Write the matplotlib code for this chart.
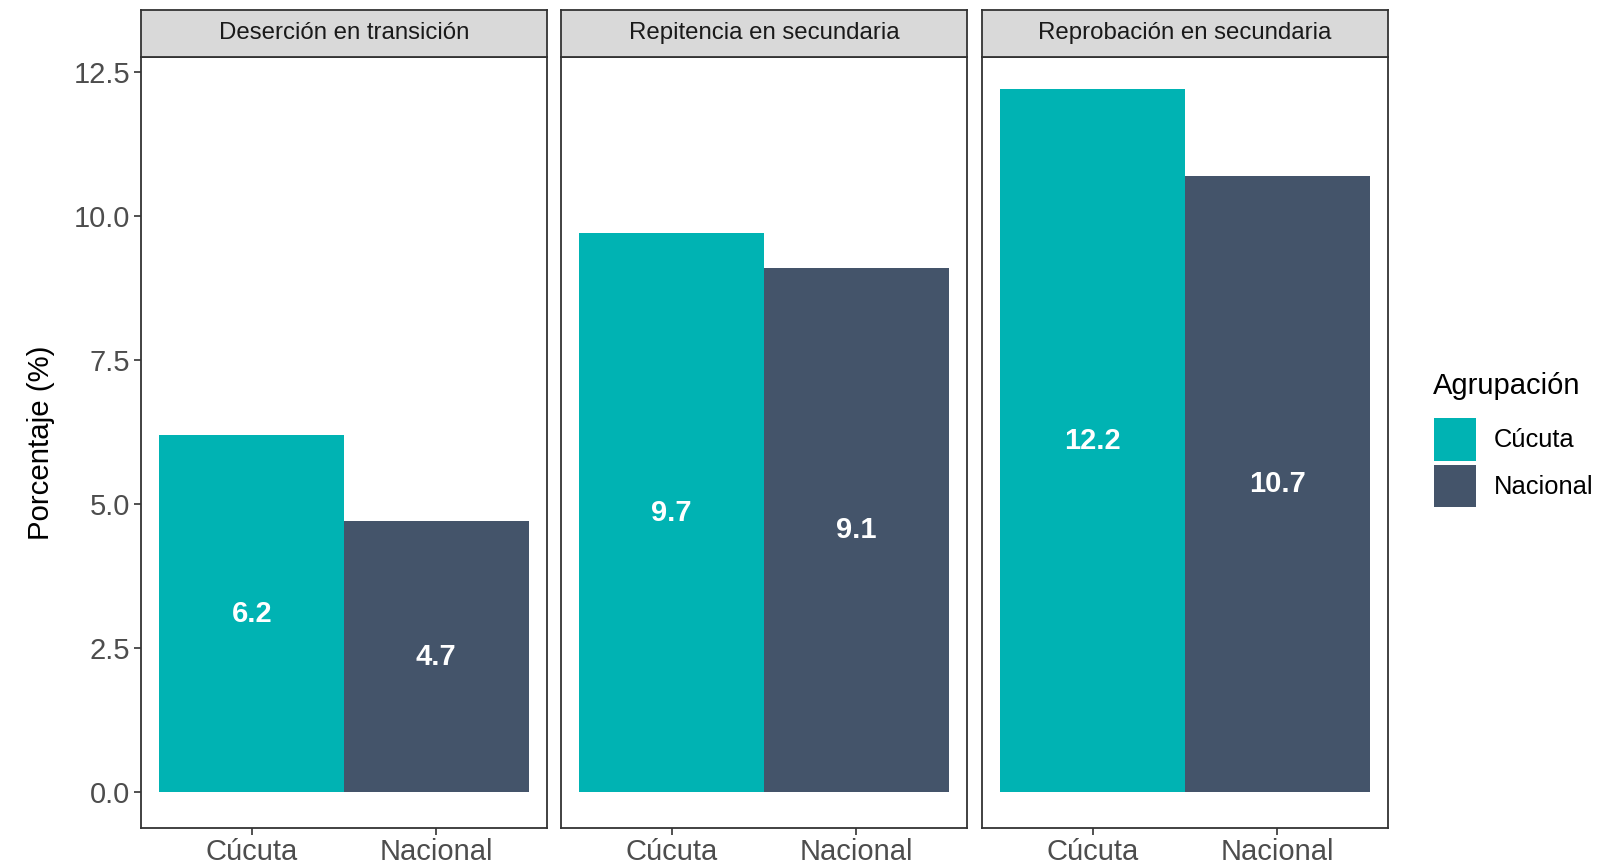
import numpy as np
import matplotlib
matplotlib.use("Agg")
import matplotlib.pyplot as plt
from matplotlib.patches import Patch

plt.rcParams['font.family'] = ['Liberation Sans', 'DejaVu Sans']

# data
panels = ["Deserción en transición", "Repitencia en secundaria", "Reprobación en secundaria"]
groups = ["Cúcuta", "Nacional"]
cucuta = [6.2, 9.7, 12.2]
nacional = [4.7, 9.1, 10.7]
yticks = [0.0, 2.5, 5.0, 7.5, 10.0, 12.5]

colors = ["#00B3B3", "#44546A"]
edge = "#333333"

W, H = 1613, 866
fig = plt.figure(figsize=(W / 100, H / 100), dpi=100)

lefts = [141, 561, 982]
pw = 406
top_px, bot_px, strip_top = 57, 828, 10

ylim = (-0.62, 12.76)

for i, name in enumerate(panels):
    ax = fig.add_axes([lefts[i] / W, 1 - bot_px / H, pw / W, (bot_px - top_px) / H])
    vals = [cucuta[i], nacional[i]]
    x = np.arange(1, 3)
    ax.bar(x, vals, width=1.0, color=colors, linewidth=0)
    for xi, v in zip(x, vals):
        ax.text(xi, v / 2, f"{v:.1f}", ha="center", va="center",
                color="white", fontsize=21, fontweight="bold")
    ax.set_xlim(0.4, 2.6)
    ax.set_ylim(*ylim)
    ax.set_xticks(x)
    ax.set_xticklabels(groups, fontsize=21, color="#4D4D4D")
    ax.set_yticks(yticks)
    if i == 0:
        ax.set_yticklabels([f"{t:.1f}" for t in yticks], fontsize=21, color="#4D4D4D")
        ax.set_ylabel("Porcentaje (%)", fontsize=21.2, labelpad=13)
        ax.tick_params(axis="y", length=5, width=1.2, color=edge, pad=3)
    else:
        ax.tick_params(axis="y", left=False, labelleft=False)
    ax.tick_params(axis="x", length=5, width=1.2, color=edge, pad=2)
    for s in ax.spines.values():
        s.set_color(edge)
        s.set_linewidth(1.3)

    sax = fig.add_axes([lefts[i] / W, 1 - top_px / H, pw / W, (top_px - strip_top) / H])
    sax.set_facecolor("#D9D9D9")
    sax.set_xticks([])
    sax.set_yticks([])
    for s in sax.spines.values():
        s.set_color(edge)
        s.set_linewidth(1.3)
    sax.text(0.5, 0.52, name, ha="center", va="center", fontsize=17.3,
             color="#1A1A1A", transform=sax.transAxes)

# legend
fig.text(1433 / W, 1 - 394 / H, "Agrupación", fontsize=21, va="baseline", ha="left")
handles = [Patch(facecolor=c, edgecolor="none") for c in colors]
leg = fig.legend(handles, groups, loc="upper left",
                 bbox_to_anchor=(1434 / W, 1 - 418 / H), frameon=False,
                 fontsize=18.4, handlelength=1.65, handleheight=2.2,
                 labelspacing=0.15, handletextpad=0.7,
                 borderaxespad=0, borderpad=0)

fig.savefig("out.png", dpi=100)
